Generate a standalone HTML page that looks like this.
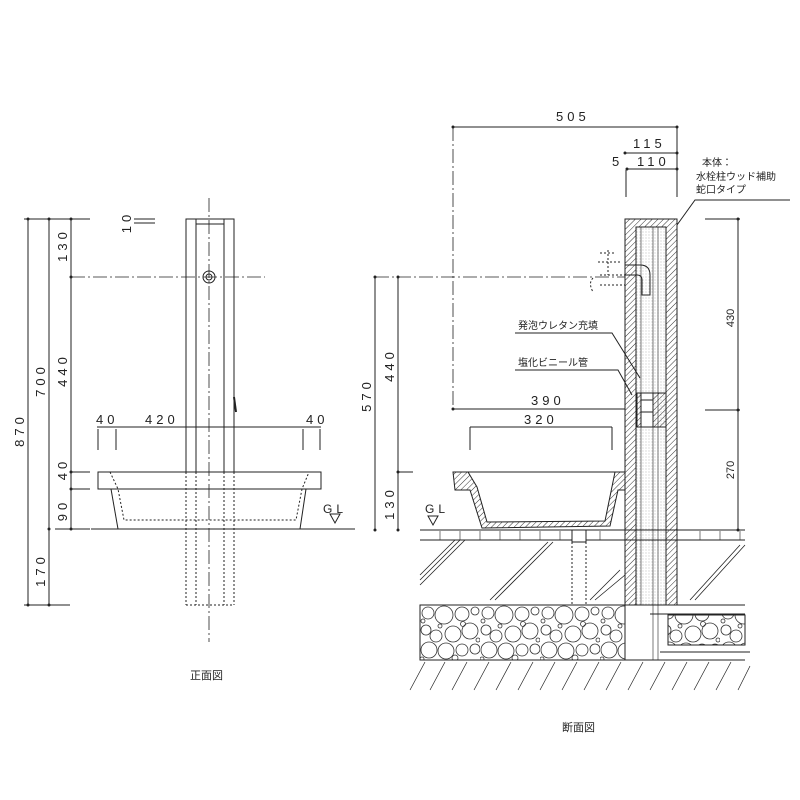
<!DOCTYPE html>
<html><head><meta charset="utf-8"><style>
html,body{margin:0;padding:0;background:#fff;width:800px;height:800px;overflow:hidden}
text{font-family:"Liberation Sans","Noto Sans CJK JP",sans-serif;fill:#222}
</style></head><body>
<svg width="800" height="800" viewBox="0 0 800 800" xmlns="http://www.w3.org/2000/svg">
<defs>
<pattern id="h" width="4" height="4" patternUnits="userSpaceOnUse" patternTransform="rotate(45)">
<line x1="0" y1="0" x2="0" y2="4" stroke="#333" stroke-width="1"/></pattern>
<pattern id="dots" width="3" height="3" patternUnits="userSpaceOnUse">
<circle cx="1" cy="1" r="0.45" fill="#999"/></pattern>
<pattern id="grav" width="60" height="56" patternUnits="userSpaceOnUse" x="420" y="605">
<g fill="none" stroke="#333" stroke-width="0.8">
<circle cx="8" cy="8" r="6"/><circle cx="24" cy="10" r="9"/><circle cx="42" cy="9" r="7"/><circle cx="55" cy="6" r="4"/>
<circle cx="6" cy="25" r="5"/><circle cx="16" cy="31" r="6"/><circle cx="33" cy="29" r="8"/><circle cx="50" cy="26" r="8"/>
<circle cx="9" cy="45" r="8"/><circle cx="26" cy="46" r="8"/><circle cx="42" cy="45" r="6"/><circle cx="55" cy="44" r="5"/>
<circle cx="35" cy="53" r="3"/><circle cx="2" cy="54" r="2"/><circle cx="3" cy="16" r="2"/><circle cx="43" cy="19" r="2.5"/><circle cx="20" cy="21" r="2"/><circle cx="58" cy="35" r="2"/></g></pattern>
</defs>
<g stroke="#222" stroke-width="1" fill="none">
<line x1="28" y1="219" x2="28" y2="605"/><line x1="49" y1="219" x2="49" y2="605"/>
<line x1="71" y1="219" x2="71" y2="529"/>
<line x1="24" y1="219" x2="90" y2="219"/><line x1="24" y1="605" x2="70" y2="605"/>
<line x1="55" y1="529" x2="90" y2="529"/>
<line x1="71" y1="472" x2="90" y2="472"/><line x1="71" y1="489" x2="90" y2="489"/>
<line x1="134" y1="219" x2="155" y2="219"/><line x1="134" y1="223" x2="155" y2="223"/>
<rect x="186" y="219" width="48" height="253"/>
<line x1="196" y1="219" x2="196" y2="472"/><line x1="224" y1="219" x2="224" y2="472"/>
<line x1="196" y1="224" x2="224" y2="224"/>
<line x1="234" y1="397" x2="236" y2="412" stroke-width="2"/>
<g stroke-dasharray="2,2"><line x1="186" y1="472" x2="186" y2="605"/><line x1="196" y1="472" x2="196" y2="605"/><line x1="224" y1="472" x2="224" y2="605"/><line x1="234" y1="472" x2="234" y2="605"/><line x1="186" y1="605" x2="234" y2="605"/></g>
<circle cx="209" cy="277" r="6"/><circle cx="209" cy="277" r="3"/>
<g stroke-dasharray="14,3,2,3" stroke-width="0.8"><line x1="209" y1="198" x2="209" y2="642"/><line x1="71" y1="277" x2="265" y2="277"/></g>
<line x1="97" y1="427" x2="321" y2="427"/>
<line x1="98" y1="429" x2="98" y2="450"/><line x1="116" y1="429" x2="116" y2="450"/><line x1="303" y1="429" x2="303" y2="450"/><line x1="320" y1="429" x2="320" y2="450"/>
<rect x="98" y="472" width="223" height="17"/>
<line x1="111" y1="489" x2="118" y2="529"/><line x1="306" y1="489" x2="300" y2="529"/>
<path d="M110 472 L118 489 L124 520 L296 520 L302 489 L309 472" stroke-dasharray="2,2"/>
<line x1="91" y1="529" x2="355" y2="529"/>
<path d="M330 514 L340 514 L335 523 Z"/>
<line x1="453" y1="127" x2="677" y2="127"/>
<line x1="625" y1="153" x2="677" y2="153"/><line x1="627" y1="169" x2="677" y2="169"/>
<line x1="677" y1="127" x2="677" y2="197"/><line x1="626" y1="170" x2="626" y2="197"/>
<g stroke-dasharray="14,3,2,3" stroke-width="0.8"><line x1="453" y1="127" x2="453" y2="410"/><line x1="375" y1="277" x2="625" y2="277"/></g>
<line x1="375" y1="277" x2="375" y2="530"/><line x1="398" y1="277" x2="398" y2="530"/>
<line x1="398" y1="472" x2="413" y2="472"/>
<line x1="453" y1="409" x2="625" y2="409"/>
<line x1="470" y1="427" x2="612" y2="427"/><line x1="470" y1="427" x2="470" y2="450"/><line x1="612" y1="427" x2="612" y2="450"/>
<line x1="738" y1="219" x2="738" y2="530"/>
<line x1="705" y1="219" x2="740" y2="219"/><line x1="705" y1="410" x2="740" y2="410"/>
<rect x="625" y="219" width="52" height="386" fill="url(#h)"/>
<rect x="636" y="227" width="30" height="378" fill="#fff"/>
<rect x="636" y="227" width="30" height="378" fill="url(#dots)" stroke="none"/>
<line x1="641" y1="227" x2="641" y2="605" stroke-width="0.6"/><line x1="653" y1="227" x2="653" y2="660" stroke-width="0.6"/><line x1="658" y1="227" x2="658" y2="660" stroke-width="0.6"/>
<rect x="637" y="393" width="29" height="34" fill="url(#h)"/>
<rect x="641" y="393" width="12" height="34" fill="#fff"/>
<line x1="641" y1="400" x2="653" y2="400"/><line x1="641" y1="412" x2="653" y2="412"/>
<path d="M625 265 L640 265 Q650 265 650 275 L650 295 L642 295 L642 280 Q642 275 637 275 L625 275"/>
<path d="M600 253 L615 253 M598 262 L620 262 M608 250 L608 275 M593 278 Q588 283 593 292 M600 285 L625 285 M600 275 L625 275" stroke-dasharray="2,2"/>
<path d="M677 225 L695 200 L790 200"/>
<path d="M515 333 L612 333 L640 378"/>
<path d="M515 370 L618 370 L632 395"/>
<path d="M453 472 L625 472 L625 490 L618 490 L610 526 L482 528 L470 490 L455 490 Z" fill="url(#h)"/>
<path d="M468 472 L615 472 L605 521 L487 522 L477 487 Z" fill="#fff"/>
<line x1="420" y1="530" x2="745" y2="530"/><line x1="420" y1="540" x2="745" y2="540"/>
<g stroke-width="0.6"><path d="M440 531v9M460 531v9M480 531v9M500 531v9M520 531v9M540 531v9M560 531v9M600 531v9M700 531v9M720 531v9M740 531v9"/></g>
<rect x="572" y="530" width="14" height="12" fill="#fff"/>
<g stroke-dasharray="2,2"><line x1="572" y1="542" x2="572" y2="605"/><line x1="586" y1="542" x2="586" y2="605"/></g>
<g stroke-width="0.8"><path d="M420 575 L455 540 M420 580 L460 540 M420 585 L465 540 M490 600 L548 542 M495 600 L553 542 M590 600 L620 570 M595 600 L625 575 M690 600 L740 545 M695 600 L745 545"/></g>
<rect x="420" y="605" width="205" height="55" fill="url(#grav)"/>
<rect x="668" y="615" width="77" height="30" fill="url(#grav)"/>
<line x1="420" y1="605" x2="625" y2="605"/><line x1="625" y1="605" x2="745" y2="605"/>
<line x1="650" y1="614" x2="745" y2="614"/><line x1="668" y1="645" x2="745" y2="645"/>
<line x1="660" y1="652" x2="750" y2="652"/><line x1="420" y1="660" x2="745" y2="660"/>
<g stroke-width="0.7"><path d="M410 690 L425 662 M430 690 L445 662 M452 690 L467 662 M474 690 L489 662 M496 690 L511 662 M518 690 L533 662 M540 690 L555 662 M562 690 L577 662 M584 690 L599 662 M606 690 L621 662 M628 690 L643 662 M650 690 L665 662 M672 690 L687 662 M694 690 L709 662 M716 690 L731 662 M738 690 L750 666"/></g>
</g>
<g fill="#222">
<circle cx="28" cy="219" r="1.5"/><circle cx="49" cy="219" r="1.5"/><circle cx="71" cy="219" r="1.5"/><circle cx="71" cy="277" r="1.5"/><circle cx="71" cy="472" r="1.5"/><circle cx="71" cy="489" r="1.5"/><circle cx="71" cy="529" r="1.5"/><circle cx="49" cy="529" r="1.5"/><circle cx="28" cy="605" r="1.5"/><circle cx="49" cy="605" r="1.5"/>
<circle cx="453" cy="127" r="1.5"/><circle cx="677" cy="127" r="1.5"/><circle cx="625" cy="153" r="1.5"/><circle cx="677" cy="153" r="1.5"/><circle cx="627" cy="169" r="1.5"/><circle cx="677" cy="169" r="1.5"/>
<circle cx="375" cy="277" r="1.5"/><circle cx="398" cy="277" r="1.5"/><circle cx="398" cy="472" r="1.5"/><circle cx="375" cy="530" r="1.5"/><circle cx="398" cy="530" r="1.5"/><circle cx="453" cy="409" r="1.5"/><circle cx="738" cy="219" r="1.5"/><circle cx="738" cy="410" r="1.5"/><circle cx="738" cy="530" r="1.5"/>
</g>
<g font-size="13" letter-spacing="4">
<text transform="translate(24,430) rotate(-90)" text-anchor="middle">870</text>
<text transform="translate(45,380) rotate(-90)" text-anchor="middle">700</text>
<text transform="translate(67,245) rotate(-90)" text-anchor="middle">130</text>
<text transform="translate(67,370) rotate(-90)" text-anchor="middle">440</text>
<text transform="translate(67,469) rotate(-90)" text-anchor="middle">40</text>
<text transform="translate(67,510) rotate(-90)" text-anchor="middle">90</text>
<text transform="translate(45,570) rotate(-90)" text-anchor="middle">170</text>
<text transform="translate(131,222) rotate(-90)" text-anchor="middle">10</text>
<text x="96" y="424">40</text><text x="145" y="424">420</text><text x="306" y="424">40</text>
<text x="323" y="513" font-size="12">GL</text>
<text x="556" y="121">505</text>
<text x="633" y="148">115</text><text x="637" y="166">110</text><text x="612" y="166">5</text>
<text transform="translate(371,395) rotate(-90)" text-anchor="middle">570</text>
<text transform="translate(394,365) rotate(-90)" text-anchor="middle">440</text>
<text transform="translate(394,503) rotate(-90)" text-anchor="middle">130</text>
<text x="531" y="405">390</text><text x="524" y="424">320</text>
<text x="425" y="513" font-size="12">GL</text>
</g>
<path d="M428 516 L438 516 L433 525 Z" fill="none" stroke="#222"/>
<g font-size="11">
<text transform="translate(734,318) rotate(-90)" text-anchor="middle">430</text>
<text transform="translate(734,470) rotate(-90)" text-anchor="middle">270</text>
</g>
<g font-size="10">
<text x="702" y="166">本体：</text>
<text x="696" y="180">水栓柱ウッド補助</text>
<text x="696" y="193">蛇口タイプ</text>
<text x="518" y="329">発泡ウレタン充填</text>
<text x="518" y="366">塩化ビニール管</text>
<text x="190" y="679" font-size="11">正面図</text>
<text x="562" y="731" font-size="11">断面図</text>
</g>
</svg>
</body></html>
